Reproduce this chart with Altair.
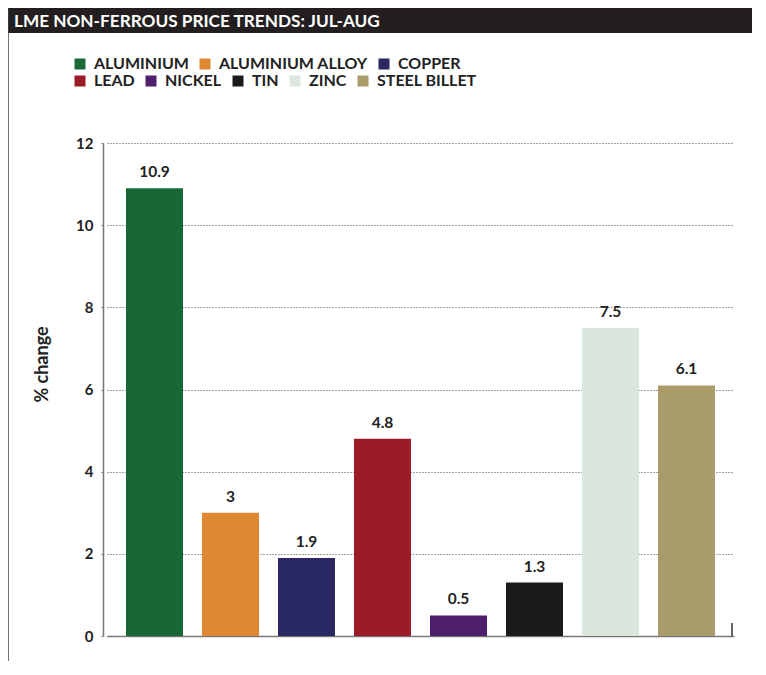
import altair as alt
import pandas as pd

metals = ["ALUMINIUM", "ALUMINIUM ALLOY", "COPPER", "LEAD", "NICKEL", "TIN", "ZINC", "STEEL BILLET"]
changes = [10.9, 3, 1.9, 4.8, 0.5, 1.3, 7.5, 6.1]
colors = ["#186836", "#df8833", "#2a2862", "#9b1c26", "#4e1f6c", "#1c1b1a", "#dbe6dd", "#a99b6a"]
y_ticks = [0, 2, 4, 6, 8, 10, 12]
title_text = "LME NON-FERROUS PRICE TRENDS: JUL-AUG"
y_title = "% change"

df = pd.DataFrame({"metal": metals, "change": changes})
df["label"] = [f"{v:g}" for v in changes]

W, H = 629, 493
FONT = "Lato"
first_row = metals[:3]
second_row = metals[3:]

x_scale = alt.Scale(paddingInner=0.25, paddingOuter=0.25, range=[4, W + 2])
x_enc = alt.X("metal:N", sort=metals, scale=x_scale,
              axis=alt.Axis(labels=False, ticks=False, title=None, domainColor="#777",
                            domainWidth=1.5, grid=False))
y_enc = alt.Y("change:Q", scale=alt.Scale(domain=[0, 12], nice=False),
              axis=alt.Axis(values=y_ticks, title=y_title, grid=True, gridDash=[1, 2],
                            gridColor="#444", gridWidth=1, domainColor="#777", domainWidth=1.5,
                            tickSize=2, tickColor="#777", labelPadding=8, labelFont=FONT,
                            labelFontSize=15, labelFontWeight="bold", labelColor="#222",
                            titleFont=FONT, titleFontSize=18, titleFontWeight="bold",
                            titleColor="#222", titleX=-61, titleY=221, titleAngle=270,
                            titleBaseline="middle", titleAlign="center"))

base = alt.Chart(df)

legend_common = dict(orient="none", direction="horizontal", title=None, symbolType="square",
                     symbolSize=121, symbolStrokeWidth=0, labelFont=FONT, labelFontSize=16,
                     labelFontWeight="bold", labelColor="#222", columnPadding=8, labelOffset=6,
                     padding=0, labelLimit=300)

bars1 = base.mark_bar().encode(
    x=x_enc, y=y_enc,
    color=alt.Color("metal:N", scale=alt.Scale(domain=first_row, range=colors[:3]),
                    legend=alt.Legend(legendX=-31, legendY=-87, **legend_common)),
).transform_filter(alt.FieldOneOfPredicate(field="metal", oneOf=first_row))

bars2 = base.mark_bar().encode(
    x=x_enc, y=y_enc,
    fill=alt.Fill("metal:N", scale=alt.Scale(domain=second_row, range=colors[3:]),
                  legend=alt.Legend(legendX=-31, legendY=-70, **legend_common)),
).transform_filter(alt.FieldOneOfPredicate(field="metal", oneOf=second_row))

labels = base.mark_text(font=FONT, fontSize=15.5, fontWeight="bold", color="#222",
                        baseline="bottom", dy=-8).encode(
    x=alt.X("metal:N", sort=metals, scale=x_scale), y="change:Q", text="label:N")

deco = alt.Chart(pd.DataFrame({"t": [title_text]}))
title_bar = deco.mark_rect(color="#231f20").encode(
    x=alt.value(-95), x2=alt.value(W + 30), y=alt.value(-135), y2=alt.value(-110))
title_txt = deco.mark_text(font=FONT, fontSize=17.2, fontWeight="bold", color="white",
                           align="left", baseline="alphabetic").encode(
    x=alt.value(-89), y=alt.value(-116), text="t:N")
frame = deco.mark_rule(color="#444", strokeWidth=1.5).encode(
    x=alt.value(-95), y=alt.value(-135), y2=alt.value(H + 40))
end_tick = deco.mark_rule(color="#333", strokeWidth=1.5).encode(
    x=alt.value(W), x2=alt.value(W), y=alt.value(H - 13), y2=alt.value(H))

chart = alt.layer(bars1, bars2, labels, title_bar, title_txt, frame, end_tick).resolve_scale(
    color="independent", fill="independent"
).properties(
    width=W, height=H,
    background="white",
    autosize=alt.AutoSizeParams(type="none"),
    padding={"left": 95, "top": 135, "right": 20, "bottom": 25},
).configure_view(strokeWidth=0, stroke="transparent")

chart.save("out.html", embed_options={"renderer": "svg", "actions": False})
